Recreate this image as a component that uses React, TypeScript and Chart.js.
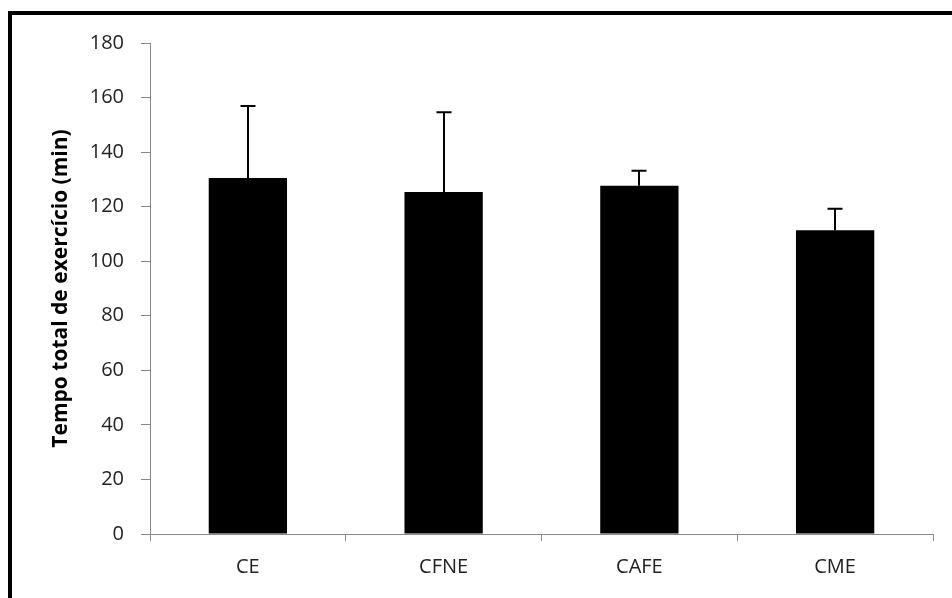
import React, { useEffect, useRef } from "react";
import { Chart, registerables } from "chart.js";

Chart.register(...registerables);

const categories = ["CE", "CFNE", "CAFE", "CME"];
const means = [130.5, 125.4, 127.7, 111.4];
const errors = [26.4, 29.2, 5.5, 7.8];
const yTicks = [0, 20, 40, 60, 80, 100, 120, 140, 160, 180];
const yTitle = "Tempo total de exercício (min)";

const errorBarPlugin = {
  id: "errorBars",
  afterDatasetsDraw(chart: any) {
    const meta = chart.getDatasetMeta(0);
    const yScale = chart.scales.y;
    const ctx = chart.ctx;
    ctx.save();
    ctx.strokeStyle = "#000";
    ctx.lineWidth = 2;
    meta.data.forEach((bar: any, i: number) => {
      const top = yScale.getPixelForValue(means[i] + errors[i]);
      const x = Math.round(bar.x);
      ctx.beginPath();
      ctx.moveTo(x, bar.y);
      ctx.lineTo(x, top);
      ctx.moveTo(x - 7.5, top);
      ctx.lineTo(x + 7.5, top);
      ctx.stroke();
    });
    ctx.restore();
  },
};

export default function App() {
  const ref = useRef<HTMLCanvasElement>(null);
  useEffect(() => {
    if (!ref.current) return;
    const chart = new Chart(ref.current, {
      type: "bar",
      data: {
        labels: categories,
        datasets: [
          {
            data: means,
            backgroundColor: "#000000",
            borderWidth: 0,
            barPercentage: 0.4,
            categoryPercentage: 1.0,
          },
        ],
      },
      options: {
        animation: false,
        responsive: false,
        maintainAspectRatio: false,
        layout: { padding: { top: 43, right: 19, left: 0, bottom: 0 } },
        plugins: { legend: { display: false }, tooltip: { enabled: false } },
        scales: {
          x: {
            offset: true,
            grid: {
              offset: true,
              drawOnChartArea: false,
              color: "#888888",
              tickLength: 7,
            },
            border: { display: true, color: "#888888", width: 1 },
            ticks: {
              color: "#222222",
              font: { family: "Open Sans", size: 20 },
              padding: 14,
            },
            afterFit(scale: any) {
              scale.height = 64;
            },
          },
          y: {
            min: 0,
            max: 180,
            afterBuildTicks(scale: any) {
              scale.ticks = yTicks.map((v) => ({ value: v }));
            },
            grid: {
              drawOnChartArea: false,
              color: "#888888",
              tickLength: 9,
            },
            border: { display: true, color: "#888888", width: 1 },
            ticks: {
              color: "#222222",
              font: { family: "Open Sans", size: 20 },
              padding: 17,
            },
            title: {
              display: true,
              text: yTitle,
              color: "#000000",
              font: { family: "Open Sans", size: 21, weight: "bold" },
              padding: { top: 48, bottom: 0 },
            },
            afterFit(scale: any) {
              scale.width = 150;
            },
          },
        },
      },
      plugins: [errorBarPlugin],
    });
    return () => chart.destroy();
  }, []);

  return (
    <div style={{ position: "fixed", left: 0, top: 0, width: 952, height: 598, background: "#fff", overflow: "hidden" }}>
      <canvas ref={ref} width={952} height={598} style={{ position: "absolute", left: 0, top: 0 }} />
      <div
        style={{
          position: "absolute",
          left: 8,
          top: 11,
          width: 980,
          height: 620,
          borderTop: "4px solid #000",
          borderLeft: "4px solid #000",
          pointerEvents: "none",
        }}
      />
    </div>
  );
}
